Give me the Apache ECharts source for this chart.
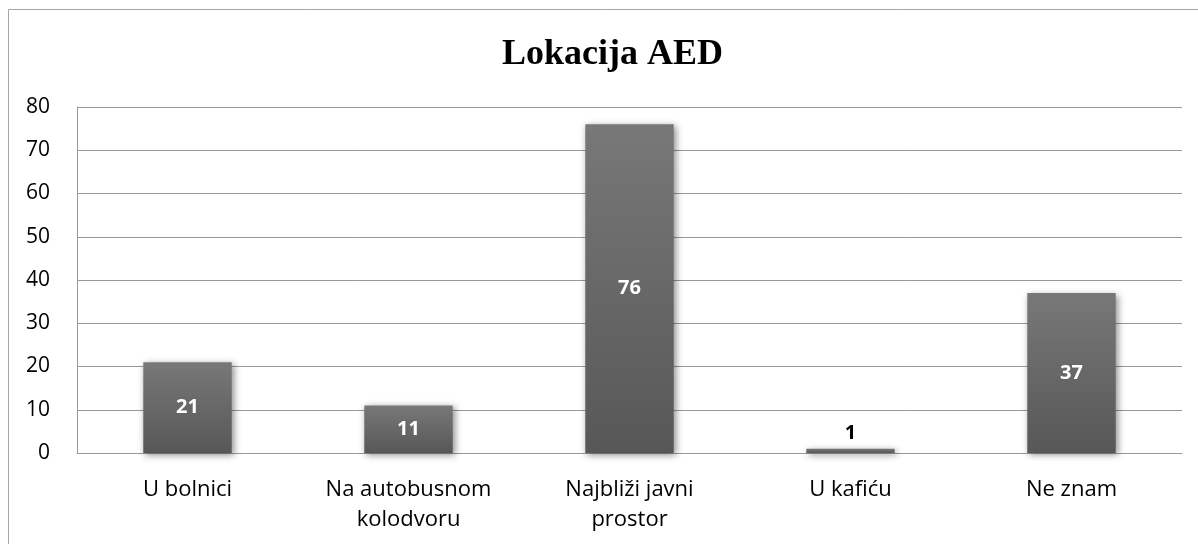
<!DOCTYPE html>
<html>
<head>
<meta charset="utf-8">
<title>Lokacija AED</title>
<script src="https://cdn.jsdelivr.net/npm/echarts@6/dist/echarts.min.js"></script>
<style>
    html, body { margin: 0; padding: 0; background: #fff; }
    #chart { width: 1198px; height: 544px; }
</style>
</head>
<body>
<div id="chart"></div>
<script>
var categories = ['U bolnici', 'Na autobusnom\nkolodvoru', 'Najbliži javni\nprostor', 'U kafiću', 'Ne znam'];
var values = [21, 11, 76, 1, 37];
var yTicks = [0, 10, 20, 30, 40, 50, 60, 70, 80];

var font = "'Open Sans', 'Noto Sans', sans-serif";

var myChart = echarts.init(document.getElementById('chart'));

// small bars get their label above in black, like the original
var barData = values.map(function (v) {
    if (v < 5) {
        return { value: v, label: { position: 'top', color: '#000' } };
    }
    return v;
});

var option = {
    backgroundColor: '#fff',
    animation: false,
    title: {
        text: 'Lokacija AED',
        left: 497,
        top: 32,
        textStyle: {
            fontFamily: "'Liberation Serif', 'Times New Roman', serif",
            fontWeight: 'bold',
            fontSize: 36,
            color: '#000'
        }
    },
    graphic: [{
        type: 'rect',
        shape: { x: 8.5, y: 9.5, width: 1200, height: 540 },
        style: { fill: 'none', stroke: '#a6a6a6', lineWidth: 1 },
        silent: true
    }],
    grid: { left: 77, right: 16, top: 107, bottom: 91 },
    xAxis: {
        type: 'category',
        data: categories,
        axisTick: { show: false },
        axisLine: { lineStyle: { color: '#999', width: 1 } },
        axisLabel: {
            margin: 22,
            fontFamily: font,
            fontSize: 22,
            lineHeight: 30,
            color: '#000'
        }
    },
    yAxis: {
        type: 'value',
        min: yTicks[0],
        max: yTicks[yTicks.length - 1],
        interval: 10,
        axisLine: { show: true, lineStyle: { color: '#999', width: 1 } },
        axisTick: { show: false },
        splitLine: { lineStyle: { color: '#999', width: 1 } },
        axisLabel: {
            margin: 27,
            fontFamily: font,
            fontSize: 21,
            color: '#000'
        }
    },
    series: [{
        type: 'bar',
        data: barData,
        barWidth: '40%',
        itemStyle: {
            color: new echarts.graphic.LinearGradient(0, 0, 0, 1, [
                { offset: 0, color: '#787878' },
                { offset: 1, color: '#575757' }
            ]),
            shadowColor: 'rgba(0,0,0,0.45)',
            shadowBlur: 7,
            shadowOffsetX: 2,
            shadowOffsetY: 2
        },
        label: {
            show: true,
            position: 'inside',
            color: '#fff',
            fontFamily: font,
            fontWeight: 'bold',
            fontSize: 20
        }
    }]
};

myChart.setOption(option);
</script>
</body>
</html>
